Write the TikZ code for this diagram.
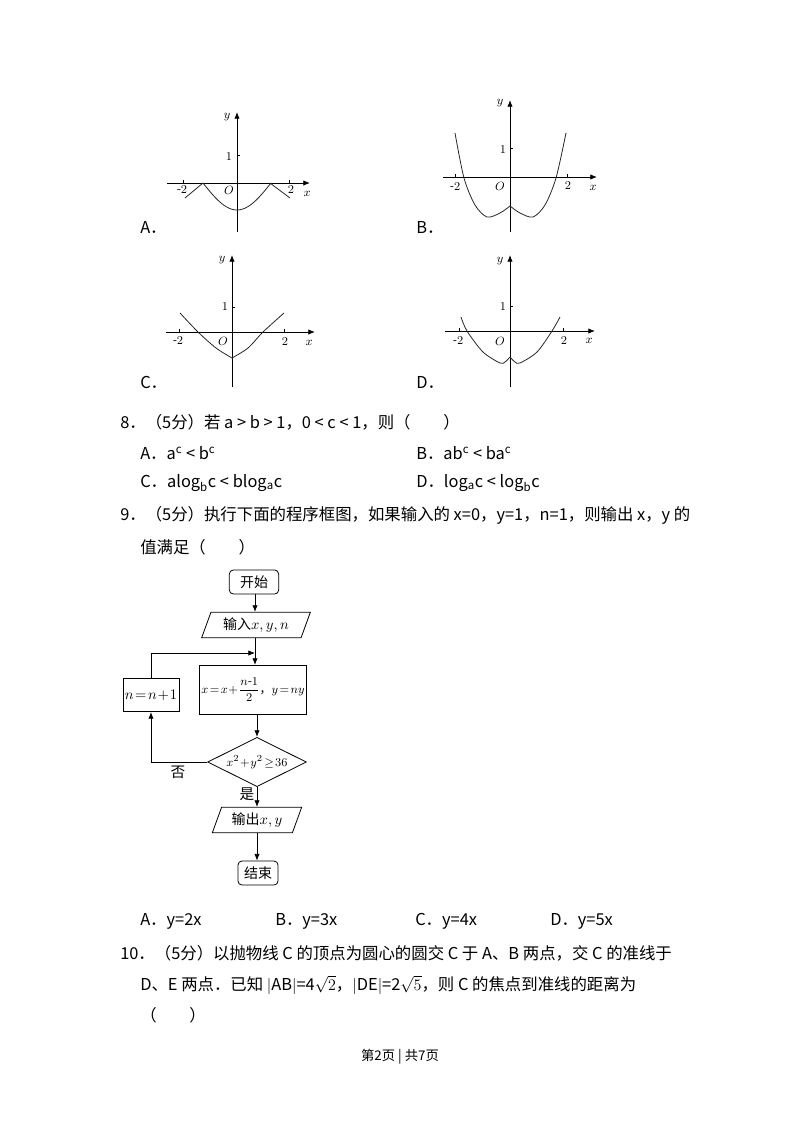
\documentclass[tikz,border=0pt]{standalone}
\usepackage{amsmath}
\usepackage{fontspec}
\setmainfont{Noto Sans CJK SC}
\usetikzlibrary{arrows.meta,shapes.geometric}
\tikzset{
 ax/.style={line width=0.6pt,-{Latex[length=5pt,width=4pt]}},
 cur/.style={line width=0.6pt,gray!30!black},
 lb/.style={font=\fontsize{9}{9}\selectfont,inner sep=0pt},
 tx/.style={font=\fontsize{12.3}{14}\selectfont,anchor=west,inner sep=0pt},
 fl/.style={draw,line width=0.6pt,font=\fontsize{10.5}{12}\selectfont},
 ar/.style={line width=0.6pt,-{Latex[length=5pt,width=4pt]}},
 io/.style={fl,trapezium,trapezium left angle=70,trapezium right angle=110,minimum height=19pt,inner sep=2pt}
}
\begin{document}
\begin{tikzpicture}[x=0.75pt,y=-0.75pt]
\useasboundingbox (0,0) rectangle (800,1132);
% Graph A
\draw[ax] (167,183)--(310,183);
\draw[ax] (237,232)--(237,112);
\draw (183,180)--(183,183) (289,180)--(289,183) (237,155)--(240,155);
\draw[cur] (185,198)--(203,183);
\draw[cur] plot[smooth,domain=-1:1,samples=30] ({237+34*\x},{183+27*cos(90*\x)});
\draw[cur] (270,183)--(290,198);
\node[lb] at (227,117) {$y$};\node[lb] at (229,157) {$1$};\node[lb] at (229,190) {$O$};
\node[lb] at (182,190) {$\text{-}2$};\node[lb] at (291,190) {$2$};\node[lb] at (307,194) {$x$};
\node[tx] at (140,227) {A．};
% Graph B
\draw[ax] (443,177)--(597,177);
\draw[ax] (510,232)--(510,100);
\draw (455,174)--(455,177) (567,174)--(567,177) (510,148)--(513,148);
\draw[cur] plot[smooth] coordinates{(455,133)(464,178)(475,205)(487,217)(500,213)(510,206)};
\draw[cur] plot[smooth] coordinates{(510,206)(520,213)(533,217)(545,205)(556,178)(566,133)};
\node[lb] at (500,103) {$y$};\node[lb] at (503,150) {$1$};\node[lb] at (500,186) {$O$};
\node[lb] at (455,187) {$\text{-}2$};\node[lb] at (568,186) {$2$};\node[lb] at (593,188) {$x$};
\node[tx] at (416,227) {B．};
% Graph C
\draw[ax] (166,332)--(315,332);
\draw[ax] (232,387)--(232,255);
\draw (179,329)--(179,332) (284,329)--(284,332) (232,307)--(235,307);
\draw[cur] plot[smooth] coordinates{(180,313)(198,332)(216,348)(232,358)};
\draw[cur] plot[smooth] coordinates{(232,358)(248,348)(263,332)(284,313)};
\node[lb] at (222,260) {$y$};\node[lb] at (225,307) {$1$};\node[lb] at (223,341) {$O$};
\node[lb] at (178,341) {$\text{-}2$};\node[lb] at (285,342) {$2$};\node[lb] at (309,343) {$x$};
\node[tx] at (140,382) {C．};
% Graph D
\draw[ax] (445,331)--(595,331);
\draw[ax] (510,387)--(510,255);
\draw (459,328)--(459,331) (563,328)--(563,331) (510,306)--(513,306);
\draw[cur] plot[smooth] coordinates{(461,317)(467,331)(483,352)(500,363)(505,362)(510,357)};
\draw[cur] plot[smooth] coordinates{(510,357)(515,362)(520,363)(537,352)(552,331)(560,317)};
\node[lb] at (500,261) {$y$};\node[lb] at (503,307) {$1$};\node[lb] at (500,341) {$O$};
\node[lb] at (458,341) {$\text{-}2$};\node[lb] at (564,341) {$2$};\node[lb] at (589,341) {$x$};
\node[tx] at (416,382) {D．};
% Q8
\node[tx] at (120,422) {8．（5分）若 a > b > 1，0 < c < 1，则（　　）};
\node[tx] at (140,453) {A．a\textsuperscript{c} < b\textsuperscript{c}};
\node[tx] at (416,453) {B．ab\textsuperscript{c} < ba\textsuperscript{c}};
\node[tx] at (140,483) {C．alog\textsubscript{b}c < blog\textsubscript{a}c};
\node[tx] at (416,483) {D．log\textsubscript{a}c < log\textsubscript{b}c};
% Q9
\node[tx] at (120,515) {9．（5分）执行下面的程序框图，如果输入的 x=0，y=1，n=1，则输出 x，y 的};
\node[tx] at (140,547) {值满足（　　）};
% flowchart
\node[fl,rounded corners=3pt,minimum width=37pt,minimum height=18pt,inner sep=1pt] (st) at (254,582) {开始};
\node[io] (in) at (256,625) {输入$x,y,n$};
\node[fl,minimum width=78pt,minimum height=37pt,inner sep=1.5pt,font=\fontsize{9}{11}\selectfont] (pr) at (253,690) {$x\!=\!x\!+\!\dfrac{n\text{-}1}{2}$，$y\!=\!ny$};
\node[fl,diamond,aspect=2.8,inner sep=0pt,minimum height=37pt,font=\fontsize{9.5}{11}\selectfont] (dc) at (257,762) {$x^2\!+\!y^2\!\geq\!36$};
\node[fl,minimum width=42pt,minimum height=25pt,inner sep=1pt] (nb) at (151,695) {$n\!=\!n\!+\!1$};
\node[io] (out) at (257,820) {输出$x,y$};
\node[fl,rounded corners=3pt,minimum width=30pt,minimum height=18pt,inner sep=1pt] (en) at (258,873) {结束};
\draw[ar] (st.south -| 255,0)--(in.north -| 255,0);
\draw[ar] (in.south -| 255,0)--(pr.north -| 255,0);
\draw[ar] (nb.north)|-(255,653);
\draw[ar] (pr.south -| 257,0)--(dc.north);
\draw[ar] (dc.west)-|(nb.south);
\draw[ar] (dc.south)--(out.north -| 257,0);
\draw[ar] (out.south -| 257,0)--(en.north -| 257,0);
\node[font=\fontsize{11}{12}\selectfont] (no) at (178,772) {否};
\node[font=\fontsize{11}{12}\selectfont] (yes) at (247,794) {是};
% answers
\node[tx] at (140,921) {A．y=2x};
\node[tx] at (275,921) {B．y=3x};
\node[tx] at (415,921) {C．y=4x};
\node[tx] at (550,921) {D．y=5x};
% Q10
\node[tx] at (120,953) {10．（5分）以抛物线 C 的顶点为圆心的圆交 C 于 A、B 两点，交 C 的准线于};
\node[tx] at (140,985) {D、E 两点．已知 $|$AB$|$=4$\sqrt{2}$，$|$DE$|$=2$\sqrt{5}$，则 C 的焦点到准线的距离为};
\node[tx] at (140,1015) {（　　）};
\node[font=\fontsize{10}{12}\selectfont] at (400,1057) {第2页 | 共7页};
\end{tikzpicture}
\end{document}
